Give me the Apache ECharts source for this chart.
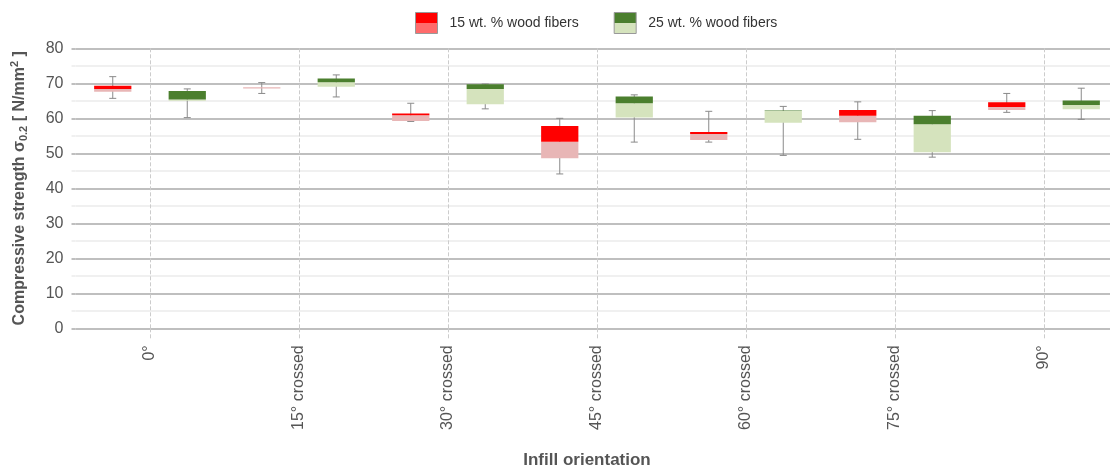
<!DOCTYPE html>
<html>
<head>
<meta charset="utf-8">
<script src="https://cdn.jsdelivr.net/npm/echarts@6/dist/echarts.min.js"></script>
<style>
html,body{margin:0;padding:0;background:#fff;}
#chart{width:1110px;height:469px;}
</style>
</head>
<body>
<div id="chart"></div>
<script>
// Categories (infill orientation)
const categories = ['0°', '15° crossed', '30° crossed', '45° crossed', '60° crossed', '75° crossed', '90°'];
const seriesNames = ['15 wt. % wood fibers', '25 wt. % wood fibers'];
// Box statistics per category: [min, Q1, median, Q3, max]
const fibers15 = [
  [65.7, 67.6, 68.4, 69.3, 71.9],
  [67.1, 68.5, 68.9, 68.9, 70.2],
  [59.1, 59.2, 60.9, 61.4, 64.3],
  [44.1, 48.6, 53.3, 57.8, 60.0],
  [53.2, 53.8, 55.5, 56.1, 62.0],
  [54.0, 58.9, 60.7, 62.4, 64.7],
  [61.7, 62.4, 63.2, 64.6, 67.1]
];
const fibers25 = [
  [60.2, 65.0, 65.4, 67.8, 68.4],
  [66.1, 69.0, 70.3, 71.4, 72.4],
  [62.7, 64.0, 68.4, 69.7, 69.8],
  [53.2, 60.2, 64.3, 66.2, 66.7],
  [49.4, 58.7, 62.1, 62.2, 63.4],
  [48.9, 50.3, 58.3, 60.7, 62.2],
  [59.7, 62.6, 63.8, 65.1, 68.6]
];
const yTicks = [0, 10, 20, 30, 40, 50, 60, 70, 80];

const colors = [
  {dark: '#ff0000', light: '#e8b6b6', legendLight: '#ff6b6b'},
  {dark: '#4b7f2e', light: '#d5e3bd', legendLight: '#d5e3bd'}
];
const FONT = '"Liberation Sans", Arial, Helvetica, sans-serif';

function toData(arr) {
  return arr.map((v, i) => [i].concat(v));
}

function renderBox(params, api) {
  const idx = api.value(0);
  const band = api.size([1, 0])[0];
  const w = band / 4;
  const side = params.seriesIndex === 0 ? -1 : 1;
  const cx = api.coord([idx, 0])[0] + side * band / 4;
  const yMin = api.coord([idx, api.value(1)])[1];
  const yQ1 = api.coord([idx, api.value(2)])[1];
  const yMed = api.coord([idx, api.value(3)])[1];
  const yQ3 = api.coord([idx, api.value(4)])[1];
  const yMax = api.coord([idx, api.value(5)])[1];
  const c = colors[params.seriesIndex];
  const whisk = {stroke: '#8a8a8a', lineWidth: 1};
  const cap = 3.5;
  return {
    type: 'group',
    children: [
      {type: 'line', shape: {x1: cx, y1: yMax, x2: cx, y2: yMin}, style: whisk},
      {type: 'line', shape: {x1: cx - cap, y1: yMax, x2: cx + cap, y2: yMax}, style: whisk},
      {type: 'line', shape: {x1: cx - cap, y1: yMin, x2: cx + cap, y2: yMin}, style: whisk},
      {type: 'rect', shape: {x: cx - w / 2, y: yMed, width: w, height: yQ1 - yMed}, style: {fill: c.light}},
      {type: 'rect', shape: {x: cx - w / 2, y: yQ3, width: w, height: yMed - yQ3}, style: {fill: c.dark}}
    ]
  };
}

function legendColor(c) {
  return {
    type: 'linear', x: 0, y: 0, x2: 0, y2: 1,
    colorStops: [
      {offset: 0, color: c.dark}, {offset: 0.5, color: c.dark},
      {offset: 0.5, color: c.legendLight}, {offset: 1, color: c.legendLight}
    ]
  };
}

const chart = echarts.init(document.getElementById('chart'), null, {renderer: 'canvas'});
chart.setOption({
  animation: false,
  backgroundColor: '#ffffff',
  legend: {
    left: 415, top: 12, padding: 0,
    itemWidth: 22, itemHeight: 21, itemGap: 35,
    textStyle: {fontSize: 14, color: '#333', fontFamily: FONT, padding: [0, 0, 0, 7]},
    data: seriesNames.map((n, i) => ({
      name: n, icon: 'rect',
      itemStyle: {color: legendColor(colors[i]), borderColor: '#999', borderWidth: 1}
    }))
  },
  grid: {left: 75.5, top: 48.3, width: 1043, height: 280, outerBoundsMode: 'none', containLabel: false},
  xAxis: {
    type: 'category',
    data: categories,
    boundaryGap: true,
    name: 'Infill orientation',
    nameLocation: 'middle',
    nameGap: 124,
    nameTextStyle: {fontSize: 17, fontWeight: 'bold', color: '#555', fontFamily: FONT, padding: [0, 20, 0, 0]},
    axisLine: {show: false},
    axisTick: {show: true, alignWithLabel: true, interval: 0, length: 12, lineStyle: {color: '#ccc', type: 'dashed'}},
    axisLabel: {rotate: 90, interval: 0, margin: 17, fontSize: 16, color: '#555', fontFamily: FONT},
    splitLine: {show: true, alignWithLabel: true, interval: 0, lineStyle: {color: '#ccc', type: 'dashed'}}
  },
  yAxis: {
    type: 'value',
    min: yTicks[0], max: yTicks[yTicks.length - 1], interval: yTicks[1] - yTicks[0],
    name: '{a|Compressive strength σ}{b|0.2}{a| [ N/mm}{c|2}{a| ]}',
    nameLocation: 'middle',
    nameGap: 46,
    nameTextStyle: {
      color: '#555',
      rich: {
        a: {fontSize: 16, fontWeight: 'bold', color: '#555', fontFamily: FONT, lineHeight: 20},
        b: {fontSize: 11, fontWeight: 'bold', color: '#555', fontFamily: FONT, lineHeight: 10, verticalAlign: 'bottom'},
        c: {fontSize: 11, fontWeight: 'bold', color: '#555', fontFamily: FONT, lineHeight: 10, verticalAlign: 'top'}
      }
    },
    axisLine: {show: false},
    axisTick: {show: true, length: 4, lineStyle: {color: '#aaa', width: 1.5}},
    minorTick: {show: true, splitNumber: 2, length: 4, lineStyle: {color: '#ececec', width: 1.5}},
    axisLabel: {fontSize: 16, color: '#555', margin: 12, fontFamily: FONT},
    splitLine: {show: true, lineStyle: {color: '#aaa', width: 1.5}},
    minorSplitLine: {show: true, lineStyle: {color: '#ececec', width: 1.5}}
  },
  series: [fibers15, fibers25].map((arr, i) => ({
    type: 'custom',
    name: seriesNames[i],
    renderItem: renderBox,
    encode: {x: 0, y: [1, 2, 3, 4, 5]},
    itemStyle: {color: colors[i].dark},
    data: toData(arr)
  }))
});
</script>
</body>
</html>
